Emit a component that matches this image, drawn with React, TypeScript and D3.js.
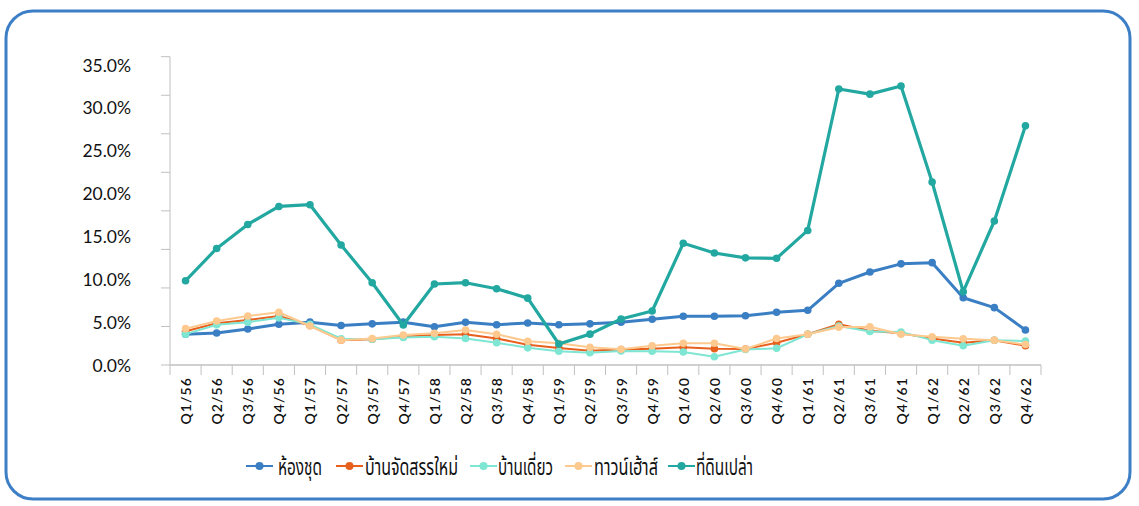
import React from 'react';
import * as d3 from 'd3';

const quarters = ['Q1/56','Q2/56','Q3/56','Q4/56','Q1/57','Q2/57','Q3/57','Q4/57','Q1/58','Q2/58','Q3/58','Q4/58','Q1/59','Q2/59','Q3/59','Q4/59','Q1/60','Q2/60','Q3/60','Q4/60','Q1/61','Q2/61','Q3/61','Q4/61','Q1/62','Q2/62','Q3/62','Q4/62'];

const condo = [3.6, 3.73, 4.2, 4.75, 5.0, 4.6, 4.8, 5.0, 4.47, 4.98, 4.7, 4.9, 4.7, 4.8, 4.98, 5.33, 5.68, 5.68, 5.75, 6.15, 6.38, 9.53, 10.85, 11.8, 11.94, 7.85, 6.69, 4.08];
const newProject = [3.93, 4.87, 5.25, 5.72, 4.6, 2.9, 3.0, 3.3, 3.5, 3.58, 3.1, 2.37, 1.98, 1.67, 1.8, 1.9, 2.06, 1.9, 1.87, 2.6, 3.58, 4.75, 4.0, 3.7, 3.1, 2.6, 2.88, 2.25];
const detached = [3.6, 4.7, 5.0, 5.5, 4.75, 3.07, 3.0, 3.2, 3.3, 3.1, 2.6, 2.0, 1.6, 1.44, 1.63, 1.6, 1.52, 0.97, 1.8, 1.95, 3.58, 4.55, 3.9, 3.85, 2.9, 2.25, 2.88, 2.8];
const townhouse = [4.24, 5.13, 5.72, 6.15, 4.55, 2.9, 3.1, 3.5, 3.7, 4.08, 3.58, 2.76, 2.53, 2.06, 1.83, 2.25, 2.53, 2.53, 1.87, 3.1, 3.58, 4.4, 4.47, 3.58, 3.3, 3.07, 2.88, 2.4];
const land = [9.83, 13.6, 16.4, 18.5, 18.7, 14.0, 9.6, 4.67, 9.45, 9.6, 8.9, 7.8, 2.45, 3.6, 5.37, 6.3, 14.2, 13.07, 12.5, 12.45, 15.7, 32.2, 31.6, 32.55, 21.35, 8.55, 16.8, 27.9];

const seriesNames = ['ห้องชุด', 'บ้านจัดสรรใหม่', 'บ้านเดี่ยว', 'ทาวน์เฮ้าส์', 'ที่ดินเปล่า'];
const seriesValues = [condo, newProject, detached, townhouse, land];
const seriesColors = ['#3a7ec3', '#e8601e', '#7ee6d2', '#fdc98e', '#22a8a0'];
const seriesWidths = [3, 2, 2, 2, 3.2];

const yTickLabels = [0, 5, 10, 15, 20, 25, 30, 35];
const yTickMarks = [0, 5, 10, 15, 20, 25, 30, 35, 40];

const W = 1139, H = 506;
const x0 = 170, x1 = 1041, yBase = 365;

export default function App() {
  const x = d3.scaleBand<string>().domain(quarters).range([x0, x1]);
  const y = d3.scaleLinear().domain([0, 35]).range([yBase, 65]);
  const yTick = d3.scaleLinear().domain([0, 40]).range([yBase, 56.7]);
  const cx = (q: string) => (x(q) as number) + x.bandwidth() / 2;
  const line = d3.line<number>().x((_, i) => cx(quarters[i])).y(d => y(d));

  const legendX = [246, 336, 470, 565, 668];
  const legendTextX = [278, 365, 498, 594, 696];
  const legendTextW = [44, 93, 55, 64, 57];
  const legendY = 466;

  const axisColor = '#c0c0c0';
  const font = "'Lato', 'Noto Sans Thai', 'Noto Sans', sans-serif";

  return (
    <svg width={W} height={H} style={{ position: 'absolute', left: 0, top: 0, background: '#fff' }}>
      <rect x={6} y={11} width={1124} height={488} rx={27} ry={27} fill="#fff" stroke="#3d7fc6" strokeWidth={3} />
      {/* y axis */}
      <line x1={x0} x2={x0} y1={yTick(40)} y2={yBase} stroke={axisColor} strokeWidth={1} />
      {yTickMarks.map(t => (
        <line key={'yt' + t} x1={x0 - 9} x2={x0} y1={yTick(t)} y2={yTick(t)} stroke={axisColor} strokeWidth={1} />
      ))}
      {yTickLabels.map(t => (
        <text key={'yl' + t} x={131} y={y(t)} textAnchor="end" dominantBaseline="central" fontFamily={font} fontSize={17.5} fill="#111">
          {t.toFixed(1) + '%'}
        </text>
      ))}
      {/* x axis */}
      <line x1={x0} x2={x1} y1={yBase} y2={yBase} stroke={axisColor} strokeWidth={1.5} />
      {quarters.map((q, i) => (
        <line key={'xt' + i} x1={x(q) as number} x2={x(q) as number} y1={yBase} y2={yBase + 10} stroke={axisColor} strokeWidth={1} />
      ))}
      <line x1={x1} x2={x1} y1={yBase} y2={yBase + 10} stroke={axisColor} strokeWidth={1} />
      {quarters.map(q => (
        <text key={'xl' + q} transform={`translate(${cx(q)},377) rotate(-90)`} textAnchor="end" dominantBaseline="central"
          fontFamily={font} fontSize={14} fontWeight={600} letterSpacing={1.1} fill="#111">
          {q}
        </text>
      ))}
      {/* series */}
      {seriesValues.map((vals, s) => (
        <g key={'s' + s}>
          <path d={line(vals) || ''} fill="none" stroke={seriesColors[s]} strokeWidth={seriesWidths[s]} strokeLinejoin="round" />
          {vals.map((v, i) => (
            <circle key={i} cx={cx(quarters[i])} cy={y(v)} r={3.8} fill={seriesColors[s]} />
          ))}
        </g>
      ))}
      {/* legend */}
      {seriesNames.map((n, s) => (
        <g key={'lg' + s}>
          <line x1={legendX[s]} x2={legendX[s] + 27} y1={legendY} y2={legendY} stroke={seriesColors[s]} strokeWidth={2} />
          <circle cx={legendX[s] + 13.5} cy={legendY} r={4} fill={seriesColors[s]} />
          <text x={legendTextX[s]} y={legendY} dominantBaseline="central" fontFamily={font} fontSize={23}
            textLength={legendTextW[s]} lengthAdjust="spacingAndGlyphs" fill="#111">{n}</text>
        </g>
      ))}
    </svg>
  );
}
